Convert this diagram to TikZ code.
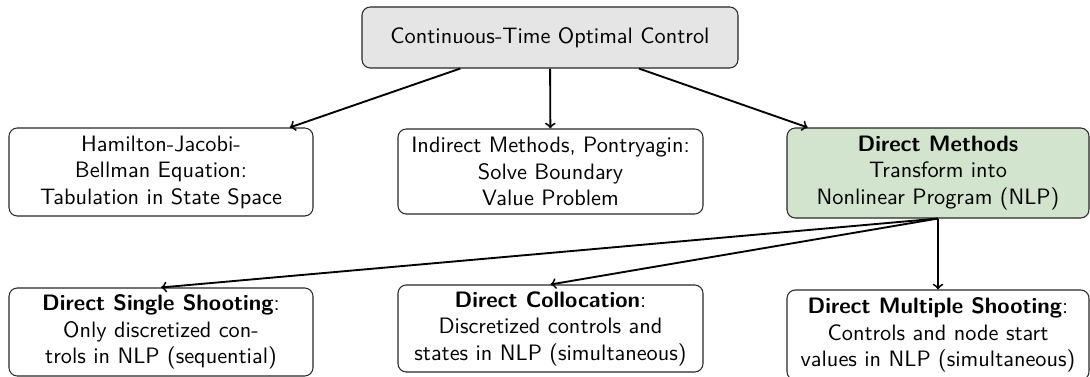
\documentclass[tikz,border=0pt]{standalone}
\newdimen\pxu \pxu=0.48pt
\definecolor{topgray}{RGB}{229,229,229}
\definecolor{dmgreen}{RGB}{211,228,206}
\begin{document}
\begin{tikzpicture}[x=0.48pt,y=-0.48pt, font=\sffamily\fontsize{10.7pt}{12.7pt}\selectfont,
  box/.style={draw=black!85, line width=0.5pt, rounded corners=4pt, align=center, inner sep=0pt},
  arr/.style={->, line width=0.9pt}]
\useasboundingbox (0,0) rectangle (1090,377);
\node[box, fill=topgray, minimum width=376\pxu, minimum height=61\pxu] (top) at (550,37.5) {Continuous-Time Optimal Control};
\node[box, minimum width=304\pxu, minimum height=88\pxu] (hjb) at (161,172) {Hamilton-Jacobi-\\Bellman Equation:\\Tabulation in State Space};
\node[box, minimum width=305\pxu, minimum height=85\pxu] (ind) at (550.5,171.5) {Indirect Methods, Pontryagin:\\Solve Boundary\\Value Problem};
\node[box, fill=dmgreen, minimum width=302\pxu, minimum height=90\pxu] (dm) at (938,173) {\textbf{Direct Methods}\\Transform into\\Nonlinear Program (NLP)};
\node[box, minimum width=304\pxu, minimum height=88\pxu] (dss) at (161,332) {\textbf{Direct Single Shooting}:\\Only discretized con-\\trols in NLP (sequential)};
\node[box, minimum width=305\pxu, minimum height=87\pxu] (dc) at (550.5,328.5) {\textbf{Direct Collocation}:\\Discretized controls and\\states in NLP (simultaneous)};
\node[box, minimum width=302\pxu, minimum height=90\pxu] (dms) at (938,335) {\textbf{Direct Multiple Shooting}:\\Controls and node start\\values in NLP (simultaneous)};
\draw[arr] (top) -- (hjb);
\draw[arr] (top) -- (ind);
\draw[arr] (top) -- (dm);
\draw[arr] (dm.south) -- (dss.north);
\draw[arr] (dm.south) -- (dc.north);
\draw[arr] (dm.south) -- (dms.north);
\end{tikzpicture}
\end{document}
